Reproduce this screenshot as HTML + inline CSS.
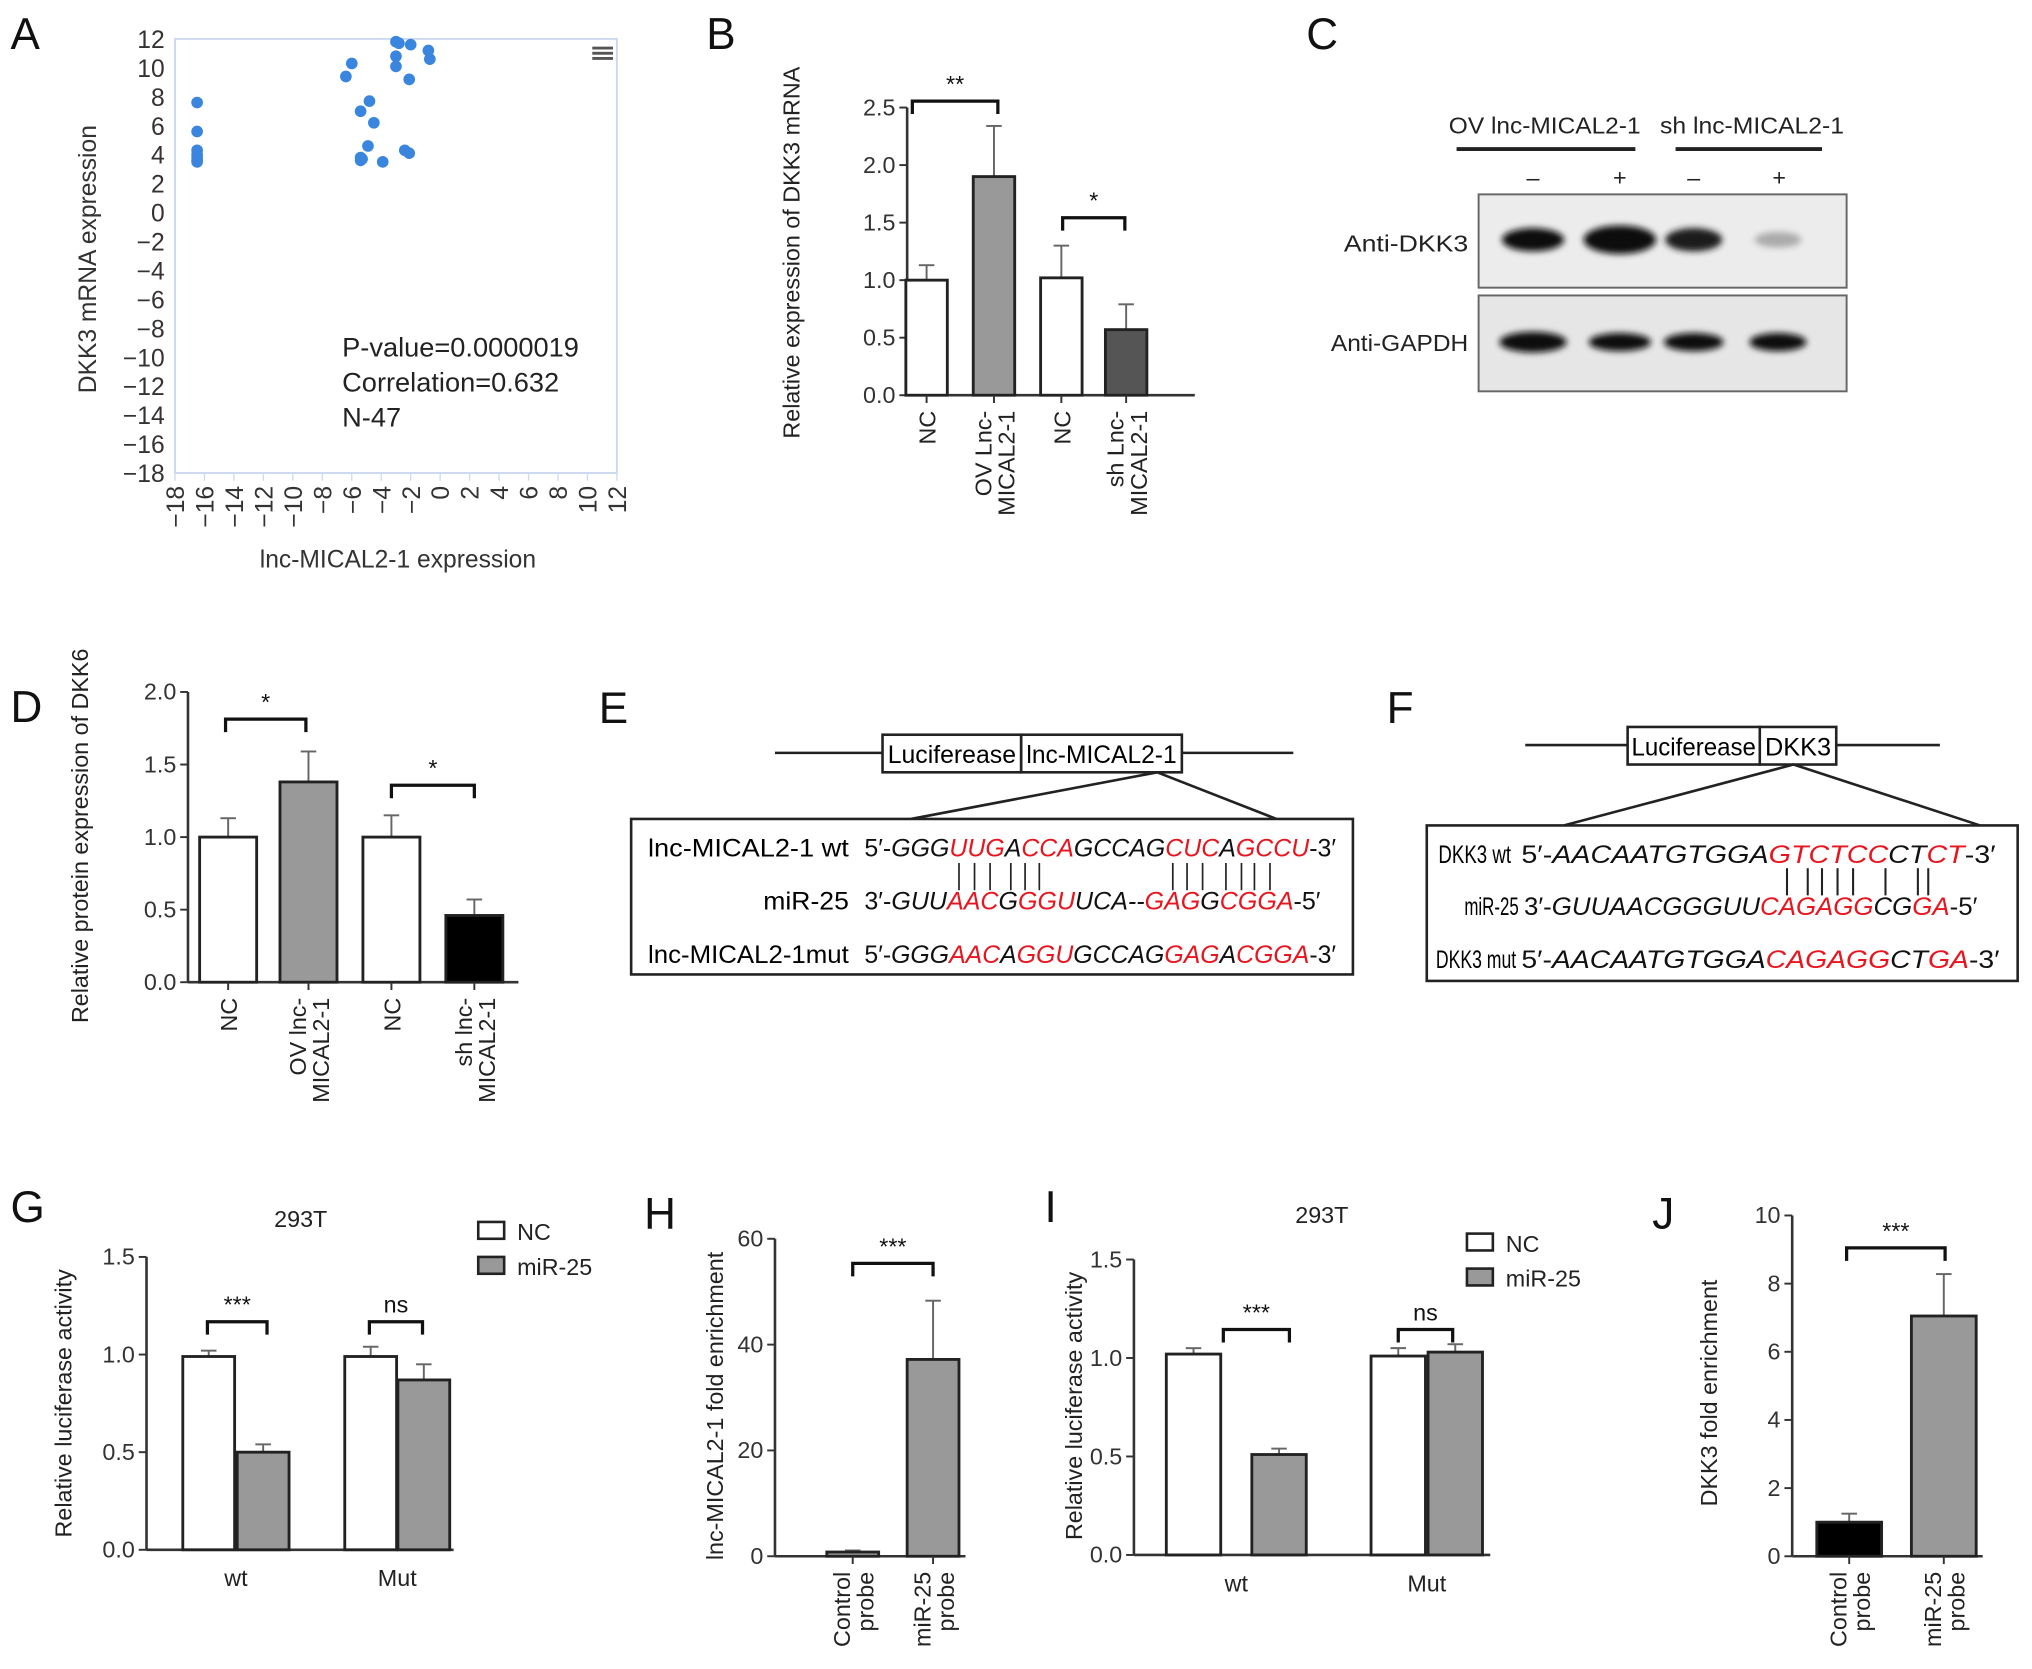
<!DOCTYPE html>
<html><head><meta charset="utf-8"><style>
html,body{margin:0;padding:0;background:#fff}
svg{display:block;font-family:"Liberation Sans",sans-serif}
</style></head><body>
<svg id="fig" xmlns="http://www.w3.org/2000/svg" width="2032" height="1669" viewBox="0 0 1568 1288">
<defs><filter id="blur" x="-50%" y="-50%" width="200%" height="200%"><feGaussianBlur stdDeviation="2.5"/></filter></defs>
<g id="root"></g>
</svg>
<script>
// ---- Panel A data ----
const scatterX = [-16.5,-16.5,-16.5,-16.5,-16.5,-16.5,-16.5,-6,-6.4,-5.4,-4.8,-4.5,-4.9,-5.4,-5.4,-5.3,-3.9,-3,-2.8,-3,-3,-2,-2.1,-2.4,-2.1,-0.8,-0.7];
const scatterY = [7.6,5.6,4.3,4.0,3.8,3.6,3.5,10.3,9.4,7.0,7.7,6.2,4.6,3.8,3.6,3.7,3.5,11.8,11.7,10.8,10.1,11.6,9.2,4.3,4.1,11.2,10.6];
const ticksA = [-18,-16,-14,-12,-10,-8,-6,-4,-2,0,2,4,6,8,10,12];
// ---- Panel B ----
const catsB = ["NC","OV Lnc-|MICAL2-1","NC","sh Lnc-|MICAL2-1"];
const valsB = [1.0,1.9,1.02,0.57];
const errB = [0.13,0.44,0.28,0.22];
const ticksB = [0,0.5,1.0,1.5,2.0,2.5];
// ---- Panel D ----
const catsD = ["NC","OV lnc-|MICAL2-1","NC","sh lnc-|MICAL2-1"];
const valsD = [1.0,1.38,1.0,0.46];
const errD = [0.13,0.21,0.15,0.11];
const ticksD = [0,0.5,1.0,1.5,2.0];
// ---- Panel G ----
const groupsG = ["wt","Mut"];
const ncG = [0.99,0.99];
const mirG = [0.50,0.87];
const ncErrG = [0.03,0.05];
const mirErrG = [0.04,0.08];
const ticksG = [0,0.5,1.0,1.5];
// ---- Panel H ----
const catsH = ["Control|probe","miR-25|probe"];
const valsH = [0.8,37.2];
const errH = [0.3,11.1];
const ticksH = [0,20,40,60];
// ---- Panel I ----
const groupsI = ["wt","Mut"];
const ncI = [1.02,1.01];
const mirI = [0.51,1.03];
const ncErrI = [0.03,0.04];
const mirErrI = [0.03,0.04];
const ticksI = [0,0.5,1.0,1.5];
// ---- Panel J ----
const catsJ = ["Control|probe","miR-25|probe"];
const valsJ = [1.0,7.05];
const errJ = [0.25,1.23];
const ticksJ = [0,2,4,6,8,10];

const NS="http://www.w3.org/2000/svg";
const root=document.getElementById('root');
function el(tag,attrs,parent,text){const e=document.createElementNS(NS,tag);for(const k in attrs)e.setAttribute(k,attrs[k]);if(text!==undefined)e.textContent=text;(parent||root).appendChild(e);return e;}
function letter(t,x,y){const e=el('text',{x:x,y:y,'font-size':34,fill:'#111'},root,t);

}

// ---------- Panel A ----------
letter('A',8,38);
(function(){
const g=el('g',{});


const x0=135,x1=476,yT=30,yB=365;
const sx=v=>x0+(v+18)/30*(x1-x0), sy=v=>yB-(v+18)/30*(yB-yT);
el('rect',{x:x0,y:yT,width:x1-x0,height:yB-yT,fill:'none',stroke:'#ccd9f0','stroke-width':1.5},g);
ticksA.forEach(t=>{
 const ty=el('text',{x:x0-8,y:sy(t)+7,'font-size':19,'text-anchor':'end',fill:'#333'},g,t<0?'\u2212'+(-t):String(t));
 
 
 el('line',{x1:sx(t),x2:sx(t),y1:yB,y2:yB+6,stroke:'#ccd9f0'},g);
 const tx=el('text',{x:0,y:0,'font-size':19,'text-anchor':'end',fill:'#333',transform:`translate(${sx(t)+7},${yB+10}) rotate(-90)`},g,t<0?'\u2212'+(-t):String(t));
 
 
});
scatterX.forEach((v,i)=>{
 const c=el('circle',{cx:sx(v),cy:sy(scatterY[i]),r:4.5,fill:'#3a85de'},g);
 
 
});
const yt=el('text',{x:0,y:0,'font-size':19,'text-anchor':'middle',fill:'#333',transform:'translate(74,200) rotate(-90)'},g,'DKK3 mRNA expression');


const xt=el('text',{x:307,y:438,'font-size':19,'text-anchor':'middle',fill:'#333'},g,'lnc-MICAL2-1 expression');


['P-value=0.0000019','Correlation=0.632','N-47'].forEach((s,i)=>{
 const t=el('text',{x:264,y:275+i*27,'font-size':21,fill:'#222'},g,s);
 
 
});
const m=el('g',{},g);


[36,40,44].forEach(y=>el('rect',{x:457,y:y,width:16,height:2.2,fill:'#555'},m));
})();

// ---------- generic bar chart ----------
function barChart(o){
 const g=el('g',{});
 
 
 const sy=v=>o.y0-(v/o.max)*(o.y0-o.yTop);
 o.ticks.forEach(t=>{
  el('line',{x1:o.ax-6,x2:o.ax,y1:sy(t),y2:sy(t),stroke:'#333','stroke-width':1.5},g);
  const tl=el('text',{x:o.ax-9,y:sy(t)+6,'font-size':18,'text-anchor':'end',fill:'#333'},g,o.fmt?o.fmt(t):String(t));
  
  
 });
 el('line',{x1:o.ax,x2:o.ax,y1:sy(o.ticks[o.ticks.length-1]),y2:o.y0,stroke:'#333','stroke-width':2},g);
 el('line',{x1:o.ax,x2:o.axEnd,y1:o.y0,y2:o.y0,stroke:'#333','stroke-width':2},g);
 o.bars.forEach(b=>{
  const top=sy(b.v), et=sy(b.v+b.e);
  el('line',{x1:b.x,x2:b.x,y1:top,y2:et,stroke:'#666','stroke-width':1.5},g);
  el('line',{x1:b.x-6,x2:b.x+6,y1:et,y2:et,stroke:'#666','stroke-width':1.5},g);
  const r=el('rect',{x:b.x-o.w/2,y:top,width:o.w,height:o.y0-top,fill:b.fill,stroke:'#222','stroke-width':2.2},g);
  
  
 });
 (o.cats||[]).forEach((c,i)=>{
  const x=o.bars[i].x; const lines=c.split('|');
  el('line',{x1:x,x2:x,y1:o.y0,y2:o.y0+6,stroke:'#333','stroke-width':1.5},g);
  lines.forEach((s,j)=>{
   const off=(j-(lines.length-1)/2)*18+7;
   const t=el('text',{x:0,y:0,'font-size':18,'text-anchor':'end',fill:'#222',transform:`translate(${x+off},${o.y0+12}) rotate(-90)`},g,s);
   
   
  });
 });
 (o.groups||[]).forEach(gr=>{
  const t=el('text',{x:gr.x,y:o.y0+28,'font-size':18,'text-anchor':'middle',fill:'#222'},g,gr.t);
  
  
 });
 o.brackets.forEach(b=>{
  el('path',{d:`M${b.a},${b.y+10}V${b.y}H${b.b}V${b.y+10}`,fill:'none',stroke:'#111','stroke-width':2.5},g);
  const t=el('text',{x:(b.a+b.b)/2,y:b.y-7,'font-size':18,'text-anchor':'middle',fill:'#111'},g,b.t);
  
  
 });
 const yt=el('text',{x:0,y:0,'font-size':18,'text-anchor':'middle',fill:'#222',transform:`translate(${o.tx},${o.tyc}) rotate(-90)`},g,o.title);
 
 
 if(o.chartTitle){const ct=el('text',{x:o.chartTitle[1],y:o.chartTitle[2],'font-size':18,'text-anchor':'middle',fill:'#222'},g,o.chartTitle[0]);
  
  }
 if(o.legend){o.legend.items.forEach((it,i)=>{
  const lg=el('g',{},g);
  
  
  const y=o.legend.y+i*27;
  el('rect',{x:o.legend.x,y:y-7,width:20,height:13,fill:it.fill,stroke:'#222','stroke-width':2},lg);
  el('text',{x:o.legend.x+30,y:y+7,'font-size':18,fill:'#222'},lg,it.t);
 });}
 return sy;
}
const f1=t=>t.toFixed(1);

// ---------- Panel B ----------
letter('B',545,38);
const bxB=[715,767,819,869], fillB=['#fff','#999','#fff','#555'];
barChart({name:'bar-chart-b',ax:700,axEnd:922,y0:305,yTop:83,max:2.5,ticks:ticksB,fmt:f1,w:32,
 bars:valsB.map((v,i)=>({x:bxB[i],v:v,e:errB[i],fill:fillB[i]})),cats:catsB,
 brackets:[{a:704,b:770,y:78,t:'**'},{a:820,b:868,y:168,t:'*'}],
 title:'Relative expression of DKK3 mRNA',tx:617,tyc:195});

// ---------- Panel C (western blot) ----------
letter('C',1008,38);
(function(){
 const g=el('g',{});
 
 
 el('text',{x:1192,y:103,'font-size':18,'text-anchor':'middle',fill:'#222',textLength:148,lengthAdjust:'spacingAndGlyphs'},g,'OV lnc-MICAL2-1');
 el('text',{x:1352,y:103,'font-size':18,'text-anchor':'middle',fill:'#222',textLength:142,lengthAdjust:'spacingAndGlyphs'},g,'sh lnc-MICAL2-1');
 el('line',{x1:1124,x2:1262,y1:115,y2:115,stroke:'#222','stroke-width':3},g);
 el('line',{x1:1293,x2:1406,y1:115,y2:115,stroke:'#222','stroke-width':3},g);
 [['\u2013',1183],['+',1250],['\u2013',1307],['+',1373]].forEach(p=>el('text',{x:p[1],y:143,'font-size':18,'text-anchor':'middle',fill:'#222'},g,p[0]));
 el('rect',{x:1141,y:150,width:284,height:72,fill:'#ececec',stroke:'#666','stroke-width':1.5},g);
 el('rect',{x:1141,y:228,width:284,height:74,fill:'#e6e6e6',stroke:'#666','stroke-width':1.5},g);
 el('text',{x:1133,y:194,'font-size':18,'text-anchor':'end',fill:'#222',textLength:96,lengthAdjust:'spacingAndGlyphs'},g,'Anti-DKK3');
 el('text',{x:1133,y:271,'font-size':18,'text-anchor':'end',fill:'#222',textLength:106,lengthAdjust:'spacingAndGlyphs'},g,'Anti-GAPDH');
 [[1183,24,9,'#111'],[1250,28,11,'#111'],[1307,22,9,'#1a1a1a'],[1372,18,6,'#aaa']].forEach(b=>{
  const e=el('ellipse',{cx:b[0],cy:185,rx:b[1],ry:b[2],fill:b[3],filter:'url(#blur)'},g);});
 [[1183,26,8],[1250,24,7],[1307,23,7],[1372,22,7]].forEach(b=>{
  const e=el('ellipse',{cx:b[0],cy:264,rx:b[1],ry:b[2],fill:'#111',filter:'url(#blur)'},g);});
})();

// ---------- Panel D ----------
letter('D',8,557);
const bxD=[176,238,302,366], fillD=['#fff','#999','#fff','#000'];
barChart({name:'bar-chart-d',ax:145,axEnd:400,y0:758,yTop:534,max:2.0,ticks:ticksD,fmt:f1,w:44,
 bars:valsD.map((v,i)=>({x:bxD[i],v:v,e:errD[i],fill:fillD[i]})),cats:catsD,
 brackets:[{a:174,b:236,y:555,t:'*'},{a:302,b:366,y:606,t:'*'}],
 title:'Relative protein expression of DKK6',tx:68,tyc:645});

// ---------- Panels E / F (sequence diagrams) ----------
function seqRow(g,x,y,w,parts){
 const t=el('text',{x:x,y:y,'font-size':19,fill:'#111',textLength:w,lengthAdjust:'spacingAndGlyphs'},g);
 parts.forEach(p=>{const s=el('tspan',{fill:p[1]?'#e8141e':'#111','font-style':p[2]===false?'normal':'italic'},t,p[0]);});
 
 
}
function lab(g,x,y,w,s,anchor){return el('text',{x:x,y:y,'font-size':19,'text-anchor':anchor||'start',textLength:w,lengthAdjust:'spacingAndGlyphs'},g,s);}
letter('E',462,558);
(function(){
 const g=el('g',{});
 
 
 el('line',{x1:598,x2:998,y1:581,y2:581,stroke:'#222','stroke-width':2},g);
 el('rect',{x:681,y:567,width:107,height:29,fill:'#fff',stroke:'#222','stroke-width':2},g);
 el('rect',{x:788,y:567,width:124,height:29,fill:'#fff',stroke:'#222','stroke-width':2},g);
 lab(g,685,589,99,'Luciferease');
 lab(g,792,589,116,'lnc-MICAL2-1');
 el('path',{d:'M703,632L893,596L985,632',fill:'none',stroke:'#222','stroke-width':2},g);
 el('rect',{x:487,y:632,width:557,height:120,fill:'#fff',stroke:'#222','stroke-width':2},g);
 lab(g,500,661,155,'lnc-MICAL2-1 wt');
 lab(g,655,702,66,'miR-25','end');
 lab(g,500,743,155,'lnc-MICAL2-1mut');
 seqRow(g,667,661,364,[["5\u2032-",0,false],["GGG"],["UUG",1],["A"],["CCA",1],["GCCAG"],["CUC",1],["A"],["GCCU",1],["-3\u2032",0,false]]);
 seqRow(g,667,702,352,[["3\u2032-",0,false],["GUU"],["AAC",1],["G"],["GGU",1],["UCA--"],["GAG",1],["G"],["CGGA",1],["-5\u2032",0,false]]);
 seqRow(g,667,743,364,[["5\u2032-",0,false],["GGG"],["AAC",1],["A"],["GGU",1],["GCCAG"],["GAG",1],["A"],["CGGA",1],["-3\u2032",0,false]]);
 [740,752,764,780,791,802,905,916,928,946,958,968,980].forEach(x=>el('line',{x1:x,x2:x,y1:666,y2:687,stroke:'#222','stroke-width':1.3},g));
})();
letter('F',1070,558);
(function(){
 const g=el('g',{});
 
 
 el('line',{x1:1177,x2:1497,y1:575,y2:575,stroke:'#222','stroke-width':2},g);
 el('rect',{x:1256,y:561,width:102,height:29,fill:'#fff',stroke:'#222','stroke-width':2},g);
 el('rect',{x:1358,y:561,width:59,height:29,fill:'#fff',stroke:'#222','stroke-width':2},g);
 lab(g,1259,583,96,'Luciferease');
 lab(g,1362,583,51,'DKK3');
 el('path',{d:'M1207,637L1384,590L1528,637',fill:'none',stroke:'#222','stroke-width':2},g);
 el('rect',{x:1101,y:637,width:456,height:120,fill:'#fff',stroke:'#222','stroke-width':2},g);
 lab(g,1110,666,56,'DKK3 wt');
 lab(g,1172,706,42,'miR-25','end');
 lab(g,1108,747,62,'DKK3 mut');
 seqRow(g,1174,666,366,[["5\u2032-",0,false],["AACAATGTGGA"],["GTCTCC",1],["CT"],["CT",1],["-3\u2032",0,false]]);
 seqRow(g,1176,706,350,[["3\u2032-",0,false],["GUUAACGGGUU"],["CAGAGG",1],["CG"],["GA",1],["-5\u2032",0,false]]);
 seqRow(g,1174,747,369,[["5\u2032-",0,false],["AACAATGTGGA"],["CAGAGG",1],["CT"],["GA",1],["-3\u2032",0,false]]);
 [1379,1395,1406,1418,1430,1455,1480,1488].forEach(x=>el('line',{x1:x,x2:x,y1:670,y2:691,stroke:'#222','stroke-width':1.6},g));
})();

// ---------- Panel G ----------
letter('G',8,943);
const gxNC=[161,286], gxMir=[203,327];
barChart({name:'bar-chart-g',ax:113,axEnd:350,y0:1196,yTop:970,max:1.5,ticks:ticksG,fmt:f1,w:40,
 bars:[0,1].flatMap(i=>[{x:gxNC[i],v:ncG[i],e:ncErrG[i],fill:'#fff'},{x:gxMir[i],v:mirG[i],e:mirErrG[i],fill:'#999'}]),
 groups:groupsG.map((t,i)=>({t:t,x:(gxNC[i]+gxMir[i])/2})),
 brackets:[{a:160,b:206,y:1020,t:'***'},{a:285,b:326,y:1020,t:'ns'}],
 title:'Relative luciferase activity',tx:55,tyc:1083,chartTitle:['293T',232,947],
 legend:{x:369,y:950,items:[{t:'NC',fill:'#fff'},{t:'miR-25',fill:'#999'}]}});

// ---------- Panel H ----------
letter('H',497,948);
barChart({name:'bar-chart-h',ax:598,axEnd:745,y0:1201,yTop:956,max:60,ticks:ticksH,w:40,
 bars:valsH.map((v,i)=>({x:[658,720][i],v:v,e:errH[i],fill:'#999'})),cats:catsH,
 brackets:[{a:658,b:720,y:975,t:'***'}],
 title:'lnc-MICAL2-1 fold enrichment',tx:558,tyc:1085});

// ---------- Panel I ----------
letter('I',806,943);
const ixNC=[921,1079], ixMir=[987,1123];
barChart({name:'bar-chart-i',ax:875,axEnd:1150,y0:1200,yTop:972,max:1.5,ticks:ticksI,fmt:f1,w:42,
 bars:[0,1].flatMap(i=>[{x:ixNC[i],v:ncI[i],e:ncErrI[i],fill:'#fff'},{x:ixMir[i],v:mirI[i],e:mirErrI[i],fill:'#999'}]),
 groups:groupsI.map((t,i)=>({t:t,x:(ixNC[i]+ixMir[i])/2})),
 brackets:[{a:944,b:995,y:1026,t:'***'},{a:1079,b:1121,y:1026,t:'ns'}],
 title:'Relative luciferase activity',tx:835,tyc:1085,chartTitle:['293T',1020,944],
 legend:{x:1132,y:959,items:[{t:'NC',fill:'#fff'},{t:'miR-25',fill:'#999'}]}});

// ---------- Panel J ----------
letter('J',1275,948);
barChart({name:'bar-chart-j',ax:1383,axEnd:1530,y0:1201,yTop:938,max:10,ticks:ticksJ,w:50,
 bars:valsJ.map((v,i)=>({x:[1427,1500][i],v:v,e:errJ[i],fill:['#000','#999'][i]})),cats:catsJ,
 brackets:[{a:1425,b:1501,y:963,t:'***'}],
 title:'DKK3 fold enrichment',tx:1325,tyc:1075});
</script>
</body></html>
